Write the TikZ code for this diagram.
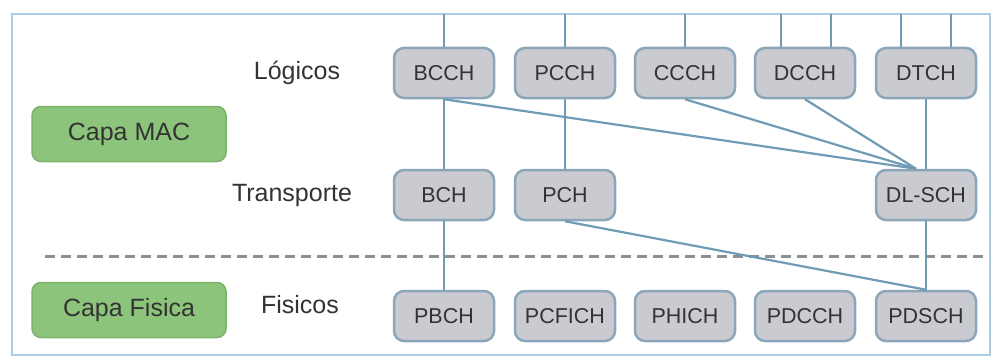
\documentclass[tikz,border=0pt]{standalone}
\usepackage{fontspec}
\setmainfont{Liberation Sans}
\definecolor{chfill}{HTML}{C9CBD0}
\definecolor{chdraw}{HTML}{8AA6B8}
\definecolor{lnc}{HTML}{6F9BB5}
\definecolor{framec}{HTML}{A9CDE3}
\definecolor{gfill}{HTML}{8DC47C}
\definecolor{gdraw}{HTML}{7AB46A}
\definecolor{txt}{HTML}{333333}
\definecolor{dashc}{HTML}{8A9096}
\begin{document}
\begin{tikzpicture}[x=1pt,y=-1pt,
  chbox/.style={draw=chdraw,fill=chfill,line width=2.5pt,rounded corners=10pt,
    minimum width=100pt,minimum height=50pt,inner sep=0pt,
    font=\fontsize{21.5}{23}\selectfont,text=txt},
  layer/.style={draw=gdraw,fill=gfill,line width=1.5pt,rounded corners=9pt,
    minimum width=194pt,minimum height=55pt,inner sep=0pt,
    font=\fontsize{25}{28}\selectfont,text=txt},
  lbl/.style={font=\fontsize{25}{27}\selectfont,text=txt,inner sep=0pt},
  conn/.style={draw=lnc,line width=2.2pt}]
\useasboundingbox (0,0) rectangle (998,361);
\draw[framec,line width=2.5pt] (12,14) rectangle (990,355);
% labels
\node[layer] (mac) at (129,134) {Capa MAC};
\node[layer] (fis) at (129,310) {Capa Fisica};
\node[lbl] (log) at (297,73) {Lógicos};
\node[lbl] (tra) at (292,195) {Transporte};
\node[lbl] (fisl) at (300,305) {Fisicos};
% dashed separator
\coordinate (d1) at (45,256);
\coordinate (d2) at (985,256);
\draw[dashc,line width=3pt,dash pattern=on 10pt off 6pt] (d1) -- (d2);
% top row
\node[chbox] (bcch) at (444,73) {BCCH};
\node[chbox] (pcch) at (565,73) {PCCH};
\node[chbox] (ccch) at (685,73) {CCCH};
\node[chbox] (dcch) at (805,73) {DCCH};
\node[chbox] (dtch) at (926,73) {DTCH};
% transport row
\node[chbox] (bch) at (444,195) {BCH};
\node[chbox] (pch) at (565,195) {PCH};
\node[chbox] (dlsch) at (926,195) {DL-SCH};
% physical row
\node[chbox] (pbch) at (444,316) {PBCH};
\node[chbox] (pcfich) at (565,316) {PCFICH};
\node[chbox] (phich) at (685,316) {PHICH};
\node[chbox] (pdcch) at (805,316) {PDCCH};
\node[chbox] (pdsch) at (926,316) {PDSCH};
% top feeders
\coordinate (t1) at (444,14);
\coordinate (t2) at (565,14);
\coordinate (t3) at (685,14);
\coordinate (t4) at (781,14);
\coordinate (t5) at (831,14);
\coordinate (t6) at (901,14);
\coordinate (t7) at (951,14);
\coordinate (conv) at ([xshift=-10pt]dlsch.north);
\draw[conn] (t1) -- (bcch.north);
\draw[conn] (t2) -- (pcch.north);
\draw[conn] (t3) -- (ccch.north);
\draw[conn] (t4) -- (t4 |- dcch.north);
\draw[conn] (t5) -- (t5 |- dcch.north);
\draw[conn] (t6) -- (t6 |- dtch.north);
\draw[conn] (t7) -- (t7 |- dtch.north);
% mappings
\draw[conn] (bcch.south) -- (bch.north);
\draw[conn] (bch.south) -- (pbch.north);
\draw[conn] (bcch.south) -- (conv);
\draw[conn] (ccch.south) -- (conv);
\draw[conn] (dcch.south) -- (conv);
\draw[conn] (dtch.south) -- (dlsch.north);
\draw[conn] (pcch.south) -- (pch.north);
\draw[conn] (pch.south) -- (pdsch.north);
\draw[conn] (dlsch.south) -- (pdsch.north);
\end{tikzpicture}
\end{document}
